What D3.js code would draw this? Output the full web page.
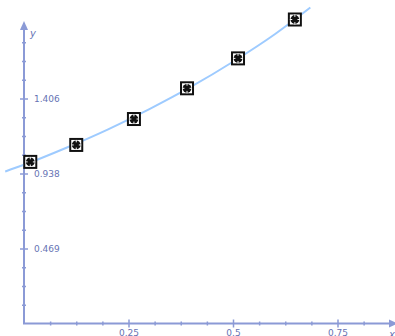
<!DOCTYPE html>
<html>
<head>
<meta charset="utf-8">
<script src="https://cdn.jsdelivr.net/npm/d3@7"></script>
<style>
  html, body { margin: 0; padding: 0; background: #fff; }
  svg { display: block; }
</style>
</head>
<body>
<svg id="chart" width="395" height="336"></svg>
<script>
// Measured sample points
const pointX = [0.015, 0.125, 0.263, 0.390, 0.512, 0.648];
const pointY = [1.010, 1.116, 1.278, 1.470, 1.657, 1.900];

// Fitted trend curve, read along its length
const curveX = [-0.045, 0.0, 0.1, 0.2, 0.3, 0.4, 0.5, 0.6, 0.685];
const curveY = [0.950, 0.992, 1.097, 1.212, 1.340, 1.480, 1.636, 1.808, 1.975];

// Axis tick values and labels
const xMajorTicks = [0.25, 0.5, 0.75];
const xMajorLabels = ["0.25", "0.5", "0.75"];
const xMinorStep = 0.0625;
const yMajorTicks = [0.46875, 0.9375, 1.40625];
const yMajorLabels = ["0.469", "0.938", "1.406"];
const yMinorStep = 0.1171875;

const svg = d3.select("#chart");
const W = 395, H = 336;
const ox = 24, oy = 323.5;

const x = d3.scaleLinear().domain([0, 1]).range([ox, ox + 418]);
const y = d3.scaleLinear().domain([0, 1]).range([oy, oy - 160]);

const axisColor = "#8b9ad6";
const textColor = "#6673b4";

// Axes
const xMax = x.invert(W);
const yMax = y.invert(23);
const xMinor = d3.range(xMinorStep, xMax, xMinorStep).filter(v => !xMajorTicks.some(t => Math.abs(t - v) < 1e-6));
const yMinor = d3.range(yMinorStep, yMax - 0.02, yMinorStep).filter(v => !yMajorTicks.some(t => Math.abs(t - v) < 1e-6));

const gx = svg.append("g").attr("transform", `translate(0,${oy})`);
gx.call(d3.axisBottom(x).tickValues(xMinor).tickSize(2).tickFormat(""))
  .call(g => g.select(".domain").remove())
  .call(g => g.selectAll(".tick line").attr("stroke", axisColor).attr("stroke-width", 1.5).attr("y1", -2));
gx.append("g").call(d3.axisBottom(x).tickValues(xMajorTicks).tickSize(4)
    .tickFormat((d, i) => xMajorLabels[i]))
  .call(g => g.select(".domain").remove())
  .call(g => g.selectAll(".tick line").attr("stroke", axisColor).attr("stroke-width", 1.5).attr("y1", -4))
  .call(g => g.selectAll(".tick text").attr("fill", textColor)
      .attr("font-family", "DejaVu Sans, sans-serif").attr("font-size", 9).attr("y", 6).attr("dy", "0.71em"));

const gy = svg.append("g").attr("transform", `translate(${ox},0)`);
gy.call(d3.axisLeft(y).tickValues(yMinor).tickSize(2).tickFormat(""))
  .call(g => g.select(".domain").remove())
  .call(g => g.selectAll(".tick line").attr("stroke", axisColor).attr("stroke-width", 1.5).attr("x1", 2));
gy.append("g").call(d3.axisRight(y).tickValues(yMajorTicks).tickSize(4)
    .tickFormat((d, i) => yMajorLabels[i]))
  .call(g => g.select(".domain").remove())
  .call(g => g.selectAll(".tick line").attr("stroke", axisColor).attr("stroke-width", 1.5).attr("x1", -4))
  .call(g => g.selectAll(".tick text").attr("fill", textColor)
      .attr("font-family", "DejaVu Sans, sans-serif").attr("font-size", 9).attr("x", 10));

// Axis lines with arrowheads
svg.append("line").attr("x1", ox).attr("x2", ox).attr("y1", oy + 0.5).attr("y2", 28)
  .attr("stroke", axisColor).attr("stroke-width", 2);
svg.append("path").attr("d", `M${ox},21 L${ox - 4},30 L${ox + 4},30 Z`).attr("fill", axisColor);
svg.append("line").attr("x1", ox - 1).attr("x2", W - 4).attr("y1", oy).attr("y2", oy)
  .attr("stroke", axisColor).attr("stroke-width", 2);
svg.append("path").attr("d", `M${W + 3},${oy} L${W - 6},${oy - 4} L${W - 6},${oy + 4} Z`).attr("fill", axisColor);

svg.append("text").attr("x", 30).attr("y", 37).text("y")
  .attr("fill", textColor).attr("font-family", "DejaVu Sans, sans-serif")
  .attr("font-size", 10).attr("font-style", "italic");
svg.append("text").attr("x", 389).attr("y", 338).text("x")
  .attr("fill", textColor).attr("font-family", "DejaVu Sans, sans-serif")
  .attr("font-size", 10).attr("font-style", "italic");

// Trend curve
const curveData = curveX.map((v, i) => [v, curveY[i]]);
svg.append("path")
  .datum(curveData)
  .attr("d", d3.line().x(d => x(d[0])).y(d => y(d[1])).curve(d3.curveMonotoneX))
  .attr("fill", "none").attr("stroke", "#9ecbff").attr("stroke-width", 2);

// Point markers: boxed dot with small notches at mid-sides
const pts = pointX.map((v, i) => ({ x: v, y: pointY[i] }));
const m = svg.append("g").selectAll("g").data(pts).join("g")
  .attr("transform", d => `translate(${x(d.x)},${y(d.y)})`);
m.append("rect").attr("x", -6).attr("y", -6).attr("width", 12).attr("height", 12)
  .attr("fill", "#fff").attr("stroke", "#111").attr("stroke-width", 2);
m.append("circle").attr("r", 4.4).attr("fill", "#111");
m.append("path")
  .attr("d", "M-5,0H-2.6M2.6,0H5M0,-5V-2.6M0,2.6V5")
  .attr("stroke", "#fff").attr("stroke-width", 1);
</script>
</body>
</html>
